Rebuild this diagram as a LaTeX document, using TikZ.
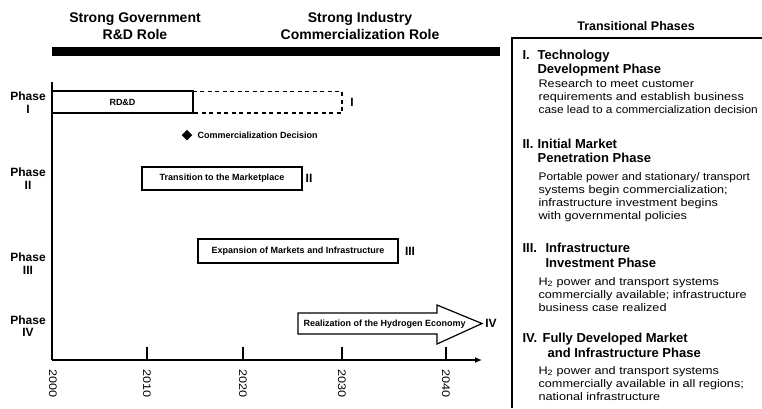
\documentclass[tikz,border=0pt]{standalone}
\usepackage{fontspec}
\setmainfont{Liberation Sans}
\newfontfamily\widefont{Liberation Sans}[FakeStretch=1.15]
\newfontfamily\tightfont{Liberation Sans}[FakeStretch=1.08]
\usetikzlibrary{shapes.geometric,arrows.meta}

\begin{document}
\begin{tikzpicture}[x=1pt, y=-1pt, line width=1.2pt,
	every node/.style={inner sep=0pt},
	head/.style={font=\fontsize{14}{16}\selectfont\bfseries, anchor=base},
	phase/.style={font=\fontsize{12}{14}\selectfont\bfseries, anchor=base},
	bar/.style={draw, fill=white, font=\fontsize{9}{11}\selectfont\bfseries},
	num/.style={font=\fontsize{12}{14}\selectfont\bfseries},
	year/.style={font=\fontsize{11}{13}\widefont, rotate=-90, anchor=west},
	ptitle/.style={font=\fontsize{13}{15}\selectfont\bfseries, anchor=base west},
	ptext/.style={font=\fontsize{11}{13}\widefont, anchor=base west},
	ptight/.style={font=\fontsize{11}{13}\tightfont, anchor=base west}]
	\useasboundingbox (0,0) rectangle (762,408);
	
	\node (h1) at (135,22) [head]{Strong Government};
	\node (h2) at (135,39) [head]{R\&D Role};
	\node (h3) at (360,22) [head]{Strong Industry};
	\node (h4) at (360,39) [head]{Commercialization Role};
	\fill (52,47) rectangle (500,56);
	
	\node (p1) at (28,100) [phase]{Phase};
	\node (p1n) at (28,113) [phase]{I};
	\node (p2) at (28,176) [phase]{Phase};
	\node (p2n) at (28,189) [phase]{II};
	\node (p3) at (28,261) [phase]{Phase};
	\node (p3n) at (28,274) [phase]{III};
	\node (p4) at (28,324) [phase]{Phase};
	\node (p4n) at (28,336) [phase]{IV};
	
	\coordinate (top) at (52,82);
	\coordinate (o) at (52,360);
	\coordinate (end) at (482,360);
	\draw (top) -- (o);
	\draw [-{Latex[length=7pt,width=6pt]}] (o) -- (end);
	\draw (147,347) -- (147,360);
	\draw (243,347) -- (243,360);
	\draw (342,347) -- (342,360);
	\draw (446,347) -- (446,360);
	\node (y0) at (53,369) [year]{2000};
	\node (y1) at (147,369) [year]{2010};
	\node (y2) at (243,369) [year]{2020};
	\node (y3) at (342,369) [year]{2030};
	\node (y4) at (446,369) [year]{2040};
	
	\draw [dash pattern=on 4pt off 3.5pt] (193,91.5) rectangle (342,113);
	\node (b1) at (122.5,102) [bar, minimum width=141pt, minimum height=22pt]{RD\&D};
	\node (r1) at (352,102) [num]{I};
	
	\node (d) at (187,135) [diamond, fill=black, minimum size=11pt]{};
	\node (dl) at (197,135) [anchor=west, font=\fontsize{9}{11}\selectfont\bfseries]{Commercialization Decision};
	
	\node (b2) at (222,178.5) [bar, minimum width=160pt, minimum height=23pt]{Transition to the Marketplace};
	\node (r2) at (309,178) [num]{II};
	
	\node (b3) at (298,251) [bar, minimum width=200pt, minimum height=24pt]{Expansion of Markets and Infrastructure};
	\node (r3) at (410,251) [num]{III};
	
	\draw [fill=white] (298,313) -- (437,313) -- (437,305) -- (482,323.5) -- (437,344) -- (437,334) -- (298,334) -- cycle;
	\node (b4) at (303,324) [anchor=west, font=\fontsize{9}{11}\selectfont\bfseries]{Realization of the Hydrogen Economy};
	\node (r4) at (491,323.5) [num]{IV};
	
	\node (t) at (636,30) [font=\fontsize{12.5}{15}\selectfont\bfseries, anchor=base]{Transitional Phases};
	\draw [line width=1.5pt] (762,38) -- (512,38);
	\draw [line width=2.5pt] (512,37.25) -- (512,408);
	
	\node (n1) at (522,59) [ptitle]{I.};
	\node (t1a) at (537,59) [ptitle]{Technology};
	\node (t1b) at (537,73) [ptitle]{Development Phase};
	\node (s1a) at (538,87) [ptext]{Research to meet customer};
	\node (s1b) at (538,100) [ptext]{requirements and establish business};
	\node (s1c) at (538,113) [ptight]{case lead to a commercialization decision};
	
	\node (n2) at (522,148) [ptitle]{II.};
	\node (t2a) at (537,148) [ptitle]{Initial Market};
	\node (t2b) at (537,162) [ptitle]{Penetration Phase};
	\node (s2a) at (538,180) [ptight]{Portable power and stationary/ transport};
	\node (s2b) at (538,193) [ptext]{systems begin commercialization;};
	\node (s2c) at (538,206) [ptext]{infrastructure investment begins};
	\node (s2d) at (538,219) [ptext]{with governmental policies};
	
	\node (n3) at (522,252) [ptitle]{III.};
	\node (t3a) at (545,252) [ptitle]{Infrastructure};
	\node (t3b) at (545,267) [ptitle]{Investment Phase};
	\node (s3a) at (538,285) [ptext]{H\textsubscript{2} power and transport systems};
	\node (s3b) at (538,298) [ptext]{commercially available; infrastructure};
	\node (s3c) at (538,311) [ptext]{business case realized};
	
	\node (n4) at (522,342) [ptitle]{IV.};
	\node (t4a) at (542,342) [ptitle]{Fully Developed Market};
	\node (t4b) at (547,357) [ptitle]{and Infrastructure Phase};
	\node (s4a) at (538,374) [ptext]{H\textsubscript{2} power and transport systems};
	\node (s4b) at (538,387) [ptext]{commercially available in all regions;};
	\node (s4c) at (538,400) [ptext]{national infrastructure};
	
\end{tikzpicture}
\end{document}
